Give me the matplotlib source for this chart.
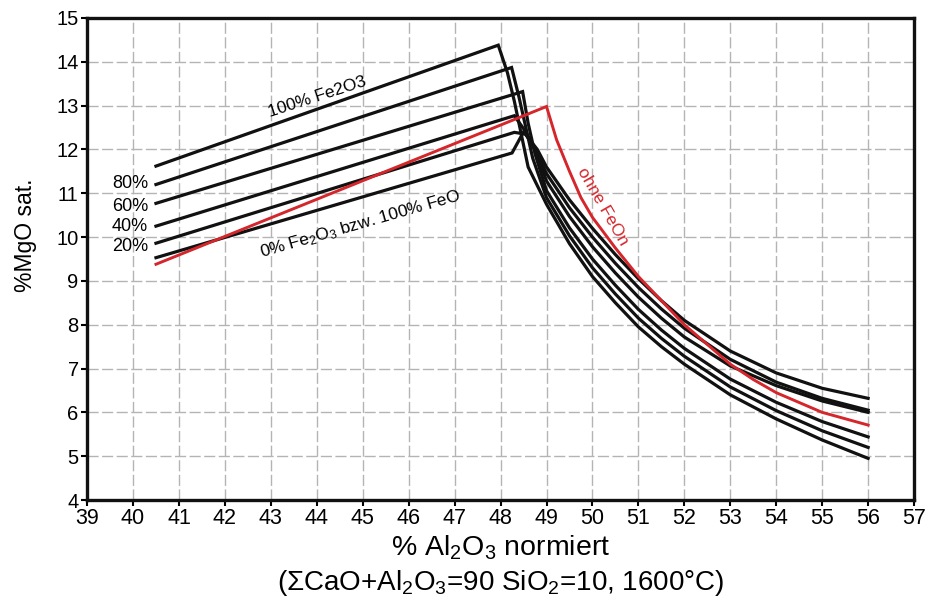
import matplotlib
matplotlib.use('Agg')
import matplotlib.pyplot as plt

# MgO saturation vs. normalised Al2O3 for different Fe2O3/FeO ratios
# left branch (start + peak) and falling branch

fe100_x = [40.5, 47.95, 48.15, 48.3, 48.45, 48.6, 49, 49.5, 50, 50.5, 51, 51.5, 52, 53, 54, 55, 56]
fe100_y = [11.62, 14.38, 13.75, 13.1, 12.35, 11.6, 10.75, 9.85, 9.1, 8.5, 7.95, 7.5, 7.1, 6.4, 5.85, 5.37, 4.95]

fe80_x = [40.5, 48.24, 48.4, 48.55, 48.7, 49, 49.5, 50, 50.5, 51, 51.5, 52, 53, 54, 55, 56]
fe80_y = [11.20, 13.87, 13.2, 12.5, 11.8, 10.9, 10.03, 9.30, 8.70, 8.15, 7.69, 7.28, 6.58, 6.04, 5.58, 5.20]

fe60_x = [40.5, 48.48, 48.6, 48.75, 49, 49.5, 50, 50.5, 51, 51.5, 52, 53, 54, 55, 56]
fe60_y = [10.77, 13.32, 12.6, 11.9, 11.06, 10.21, 9.50, 8.90, 8.35, 7.88, 7.46, 6.76, 6.23, 5.79, 5.44]

fe40_x = [40.5, 48.3, 48.55, 48.75, 49, 49.5, 50, 50.5, 51, 51.5, 52, 53, 54, 55, 56]
fe40_y = [10.25, 12.77, 12.4, 12.0, 11.28, 10.47, 9.78, 9.18, 8.63, 8.15, 7.72, 7.06, 6.61, 6.26, 6.0]

fe20_x = [40.5, 48.3, 48.55, 48.8, 49, 49.5, 50, 50.5, 51, 51.5, 52, 53, 54, 55, 56]
fe20_y = [9.86, 12.39, 12.35, 11.9, 11.45, 10.67, 10.0, 9.4, 8.85, 8.36, 7.92, 7.21, 6.69, 6.32, 6.05]

fe0_x = [40.5, 48.25, 48.5, 48.8, 49, 49.5, 50, 50.5, 51, 51.5, 52, 53, 54, 55, 56]
fe0_y = [9.53, 11.92, 12.4, 12.0, 11.6, 10.85, 10.2, 9.6, 9.05, 8.55, 8.1, 7.4, 6.9, 6.55, 6.32]

# without FeOn (red)
ohne_x = [40.5, 49.0, 49.22, 49.5, 49.75, 50, 50.5, 51, 51.5, 52, 52.5, 53, 53.5, 54, 55, 56]
ohne_y = [9.38, 12.98, 12.22, 11.5, 10.9, 10.45, 9.75, 9.1, 8.55, 8.0, 7.55, 7.1, 6.75, 6.45, 6.0, 5.71]

xticks = list(range(39, 58))
yticks = list(range(4, 16))

pct_labels = ['80%', '60%', '40%', '20%']
pct_label_y = [11.22, 10.69, 10.24, 9.78]

plt.rcParams['font.family'] = ['Liberation Sans', 'DejaVu Sans']
plt.rcParams['mathtext.default'] = 'regular'

fig = plt.figure(figsize=(9.28, 6.1), dpi=100)
ax = fig.add_axes([0.0938, 0.1803, 0.8912, 0.7902])

black_lines = [(fe100_x, fe100_y), (fe80_x, fe80_y), (fe60_x, fe60_y),
               (fe40_x, fe40_y), (fe20_x, fe20_y), (fe0_x, fe0_y)]
for xs, ys in black_lines:
    ax.plot(xs, ys, color='#111111', lw=2.3, solid_joinstyle='miter', zorder=3)

ax.plot(ohne_x, ohne_y, color='#d4262b', lw=2.1, solid_joinstyle='miter', zorder=4)

# annotations
ax.text(44.0, 13.2, '100% Fe2O3', rotation=18, ha='center', va='center', fontsize=12.5)
ax.text(44.95, 10.3, '0% Fe$_2$O$_3$ bzw. 100% FeO', rotation=16, ha='center',
        va='center', fontsize=12.5)
for lab, yy in zip(pct_labels, pct_label_y):
    ax.text(40.33, yy, lab, ha='right', va='center', fontsize=13)
ax.text(50.23, 10.69, 'ohne FeOn', rotation=-60, ha='center', va='center',
        fontsize=12.5, color='#d4262b')

ax.set_xlim(39, 57)
ax.set_ylim(4, 15)
ax.set_xticks(xticks)
ax.set_yticks(yticks)
ax.tick_params(axis='x', labelsize=15.5, length=4, width=1.5, pad=2)
ax.tick_params(axis='y', labelsize=14.5, length=4, width=1.5, pad=2)

ax.grid(True, color='#b4b4b4', lw=1.0, linestyle=(0, (8, 2.5)))
ax.set_axisbelow(True)
for sp in ax.spines.values():
    sp.set_linewidth(2.4)
    sp.set_color('#111111')

ax.set_ylabel('%MgO sat.', fontsize=16.5)
ax.yaxis.set_label_coords(-0.060, 0.55)

fig.text(0.5394, 0.1016, '% Al$_2$O$_3$ normiert', ha='center', va='center',
         fontsize=20.5)
fig.text(0.5394, 0.0443, '(\u03a3CaO+Al$_2$O$_3$=90 SiO$_2$=10, 1600\u00b0C)', ha='center',
         va='center', fontsize=20)

fig.savefig('out.png', dpi=100)
